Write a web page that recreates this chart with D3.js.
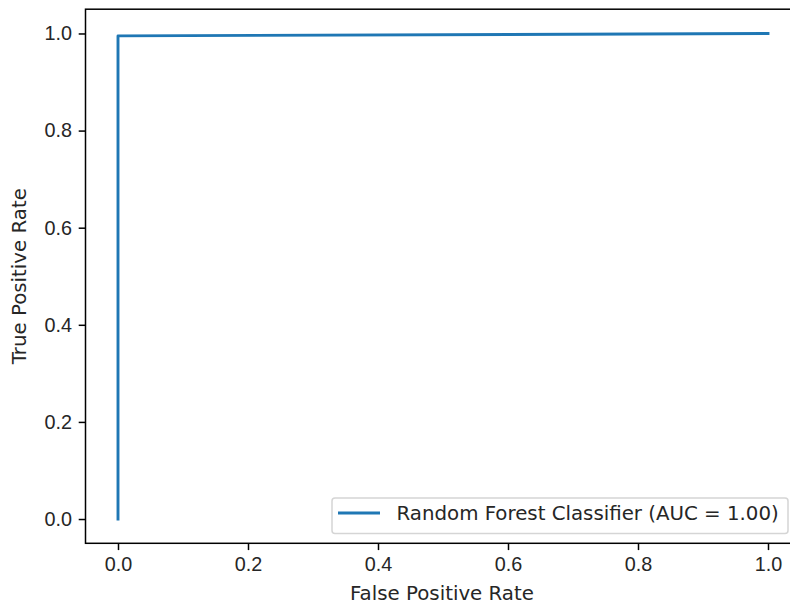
<!DOCTYPE html>
<html lang="en">
<head>
    <meta charset="UTF-8">
    <title>ROC Curve - Random Forest Classifier</title>
    <script src="https://d3js.org/d3.v7.min.js"></script>
    <style>
        body {
            margin: 0;
            background: #fff;
        }

        svg {
            display: block;
            font-family: 'DejaVu Sans', sans-serif;
        }

        .axis path,
        .axis line {
            stroke: #000;
            stroke-width: 1.5;
        }

        .axis text {
            font-size: 19.8px;
            fill: #262626;
        }

        .axis-label {
            font-size: 19.8px;
            fill: #262626;
            text-anchor: middle;
        }
    </style>
</head>
<body>
    <svg width="790" height="607"></svg>

    <script>
        // ROC curve points (false positive rate, true positive rate)
        const fpr = [0, 0, 1];
        const tpr = [0, 0.995, 1];
        const seriesLabel = 'Random Forest Classifier (AUC = 1.00)';
        const xTicks = [0, 0.2, 0.4, 0.6, 0.8, 1.0];
        const yTicks = [0, 0.2, 0.4, 0.6, 0.8, 1.0];

        const svg = d3.select('svg');
        const plot = { left: 85.5, right: 800.5, top: 9.2, bottom: 543.3 };

        const x = d3.scaleLinear().domain([-0.05, 1.05]).range([plot.left, plot.right]);
        const y = d3.scaleLinear().domain([-0.05, 1.05]).range([plot.bottom, plot.top]);

        const points = fpr.map((d, i) => [d, tpr[i]]);

        // curve
        svg.append('path')
            .datum(points)
            .attr('fill', 'none')
            .attr('stroke', '#1f77b4')
            .attr('stroke-width', 2.9)
            .attr('stroke-linejoin', 'round')
            .attr('stroke-linecap', 'square')
            .attr('d', d3.line().x(d => x(d[0])).y(d => y(d[1])));

        // spines
        svg.append('rect')
            .attr('x', plot.left)
            .attr('y', plot.top)
            .attr('width', plot.right - plot.left)
            .attr('height', plot.bottom - plot.top)
            .attr('fill', 'none')
            .attr('stroke', '#000')
            .attr('stroke-width', 1.5);

        // X axis
        const xAxis = svg.append('g')
            .attr('class', 'axis')
            .attr('transform', `translate(0,${plot.bottom})`)
            .call(d3.axisBottom(x).tickValues(xTicks).tickFormat(d3.format('.1f'))
                .tickSize(6.8).tickPadding(6.8).tickSizeOuter(0));
        xAxis.select('.domain').remove();

        // Y axis
        const yAxis = svg.append('g')
            .attr('class', 'axis')
            .attr('transform', `translate(${plot.left},0)`)
            .call(d3.axisLeft(y).tickValues(yTicks).tickFormat(d3.format('.1f'))
                .tickSize(6.8).tickPadding(6.8).tickSizeOuter(0));
        yAxis.select('.domain').remove();

        // axis labels
        svg.append('text')
            .attr('class', 'axis-label')
            .attr('x', (plot.left + plot.right) / 2 - 1)
            .attr('y', 600)
            .text('False Positive Rate');

        svg.append('text')
            .attr('class', 'axis-label')
            .attr('transform', `translate(26,${(plot.top + plot.bottom) / 2}) rotate(-90)`)
            .text('True Positive Rate');

        // legend
        const legend = svg.append('g');
        legend.append('rect')
            .attr('x', 332)
            .attr('y', 498)
            .attr('width', 456)
            .attr('height', 35.5)
            .attr('rx', 3)
            .attr('fill', 'rgba(255,255,255,0.8)')
            .attr('stroke', '#d5d5d5')
            .attr('stroke-width', 1.5);
        legend.append('line')
            .attr('x1', 338)
            .attr('x2', 380)
            .attr('y1', 513)
            .attr('y2', 513)
            .attr('stroke', '#1f77b4')
            .attr('stroke-width', 2.9);
        legend.append('text')
            .attr('x', 396.5)
            .attr('y', 520)
            .attr('font-size', '19.8px')
            .attr('fill', '#262626')
            .text(seriesLabel);
    </script>
</body>
</html>
